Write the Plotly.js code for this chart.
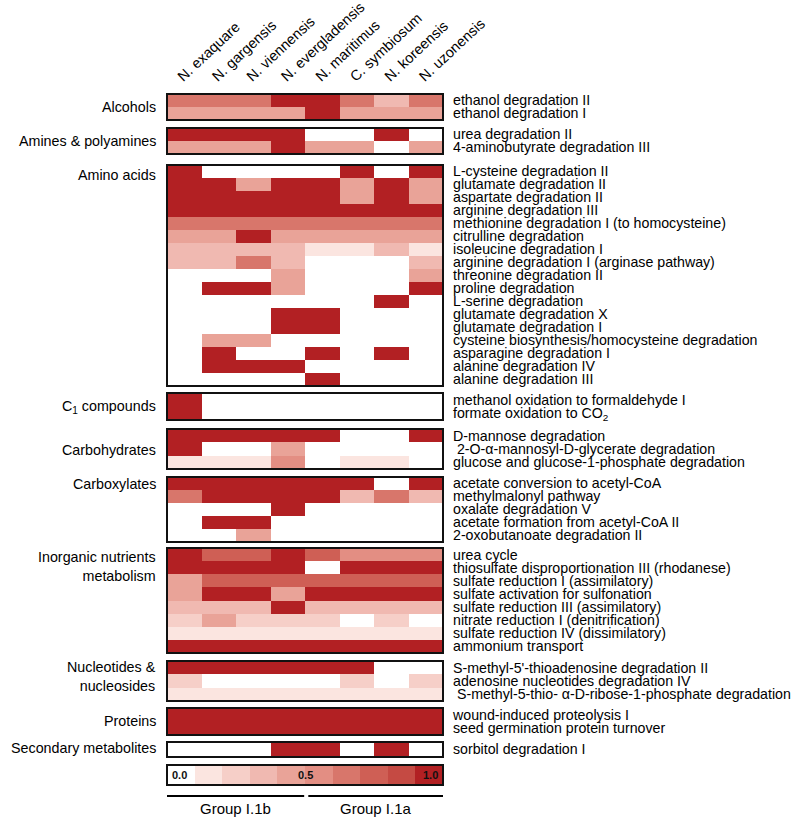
<!DOCTYPE html>
<html>
<head>
<meta charset="utf-8">
<script src="https://cdn.plot.ly/plotly-3.0.1.min.js"></script>
<style>html,body{margin:0;padding:0;background:#fff;}#chart{width:800px;height:822px;}</style>
</head>
<body>
<div id="chart"></div>
<script>
// ---------- DATA ----------
const species = ['N. exaquare','N. gargensis','N. viennensis','N. evergladensis','N. maritimus','C. symbiosum','N. koreensis','N. uzonensis'];

const alcoholsPathways = ['ethanol degradation II','ethanol degradation I'];
const alcoholsValues = [
  [0.6,0.6,0.6,1,1,0.6,0.3,0.6],
  [0.4,0.4,0.4,0.4,1,0.4,0.4,0.4]
];

const aminesPathways = ['urea degradation II','4-aminobutyrate degradation III'];
const aminesValues = [
  [1,1,1,1,0,0,1,0],
  [0.4,0.4,0.4,1,0.4,0.4,0,0.4]
];

const aminoPathways = ['L-cysteine degradation II','glutamate degradation II','aspartate degradation II','arginine degradation III',
  'methionine degradation I (to homocysteine)','citrulline degradation','isoleucine degradation I',
  'arginine degradation I (arginase pathway)','threonine degradation II','proline degradation','L-serine degradation',
  'glutamate degradation X','glutamate degradation I','cysteine biosynthesis/homocysteine degradation',
  'asparagine degradation I','alanine degradation IV','alanine degradation III'];
const aminoValues = [
  [1,0,0,0,0,1,0,1],
  [1,1,0.4,1,1,0.4,1,0.4],
  [1,1,1,1,1,0.4,1,0.4],
  [1,1,1,1,1,1,1,1],
  [0.6,0.6,0.6,0.6,0.6,0.6,0.6,0.6],
  [0.4,0.4,1,0.4,0.4,0.4,0.4,0.4],
  [0.3,0.3,0.3,0.3,0.1,0.1,0.3,0.1],
  [0.3,0.3,0.6,0.3,0,0,0,0.3],
  [0,0,0,0.4,0,0,0,0.4],
  [0,1,1,0.4,0,0,0,1],
  [0,0,0,0,0,0,1,0],
  [0,0,0,1,1,0,0,0],
  [0,0,0,1,1,0,0,0],
  [0,0.4,0.4,0,0,0,0,0],
  [0,1,0,0,1,0,1,0],
  [0,1,1,1,0,0,0,0],
  [0,0,0,0,1,0,0,0]
];

const c1Pathways = ['methanol oxidation to formaldehyde I','formate oxidation to CO<sub>2</sub>'];
const c1Values = [
  [1,0,0,0,0,0,0,0],
  [1,0,0,0,0,0,0,0]
];

const carbPathways = ['D-mannose degradation',' 2-O-\u03b1-mannosyl-D-glycerate degradation','glucose and glucose-1-phosphate degradation'];
const carbValues = [
  [1,1,1,1,1,0,0,1],
  [1,0,0,0.4,0,0,0,0],
  [0.1,0.1,0.1,0.5,0,0.1,0.1,0]
];

const carboxPathways = ['acetate conversion to acetyl-CoA','methylmalonyl pathway','oxalate degradation V','acetate formation from acetyl-CoA II','2-oxobutanoate degradation II'];
const carboxValues = [
  [1,1,1,1,1,1,0,1],
  [0.6,1,1,1,1,0.3,0.6,0.3],
  [0,0,0,1,0,0,0,0],
  [0,1,1,0,0,0,0,0],
  [0,0,0.4,0,0,0,0,0]
];

const inorgPathways = ['urea cycle','thiosulfate disproportionation III (rhodanese)','sulfate reduction I (assimilatory)',
  'sulfate activation for sulfonation','sulfate reduction III (assimilatory)','nitrate reduction I (denitrification)',
  'sulfate reduction IV (dissimilatory)','ammonium transport'];
const inorgValues = [
  [1,0.7,0.7,1,0.7,0.5,0.5,0.5],
  [1,1,1,1,0,1,1,1],
  [0.4,0.7,0.7,0.7,0.7,0.7,0.7,0.7],
  [0.4,1,1,0.4,1,1,1,1],
  [0.3,0.3,0.3,1,0.3,0.3,0.3,0.3],
  [0.2,0.4,0.2,0.2,0.2,0,0.2,0],
  [0.1,0.1,0.1,0.1,0.1,0.1,0.1,0.1],
  [1,1,1,1,1,1,1,1]
];

const nuclPathways = ["S-methyl-5'-thioadenosine degradation II",'adenosine nucleotides degradation IV',' S-methyl-5-thio- \u03b1-D-ribose-1-phosphate degradation'];
const nuclValues = [
  [1,1,1,1,1,1,0,0],
  [0.2,0,0,0,0,0.2,0,0.2],
  [0.1,0.1,0.1,0.1,0.1,0.1,0.1,0.1]
];

const protPathways = ['wound-induced proteolysis I','seed germination protein turnover'];
const protValues = [
  [1,1,1,1,1,1,1,1],
  [1,1,1,1,1,1,1,1]
];

const secPathways = ['sorbitol degradation I'];
const secValues = [
  [0,0,0,1,1,0,1,0]
];

const groupNames = ['Alcohols','Amines & polyamines','Amino acids','C<sub>1</sub> compounds','Carbohydrates','Carboxylates',
  'Inorganic nutrients<br>metabolism','Nucleotides &<br>nucleosides','Proteins','Secondary metabolites'];

const scaleLevels = [0,0.1,0.2,0.3,0.4,0.5,0.6,0.7,0.8,0.9];
const scaleTickLabels = ['0.0','0.5','1.0'];
const cladeNames = ['Group I.1b','Group I.1a'];

// ---------- STYLE / LAYOUT ----------
const H = 822;
const FONT = 'Arial, "Liberation Sans", Helvetica, sans-serif';
const binColors = ['#ffffff','#fbe5e0','#f6cfc8','#f0b9b1','#e9a398','#e38e83','#d8766b','#cf5f55','#c54a43','#b22023'];
const colorscale = [];
binColors.forEach((c,i)=>{ colorscale.push([i/10,c]); colorscale.push([i<9?(i+1)/10-1e-6:1,c]); });

const groups = [
  {p:alcoholsPathways, v:alcoholsValues, top:94,  bot:120, ly:107},
  {p:aminesPathways,   v:aminesValues,   top:128, bot:154, ly:141},
  {p:aminoPathways,    v:aminoValues,    top:165, bot:386, ly:175},
  {p:c1Pathways,       v:c1Values,       top:393, bot:420, ly:407},
  {p:carbPathways,     v:carbValues,     top:429, bot:469, ly:450},
  {p:carboxPathways,   v:carboxValues,   top:477, bot:542, ly:484},
  {p:inorgPathways,    v:inorgValues,    top:548, bot:653, ly:566},
  {p:nuclPathways,     v:nuclValues,     top:661, bot:701, ly:676},
  {p:protPathways,     v:protValues,     top:708, bot:735, ly:721},
  {p:secPathways,      v:secValues,      top:742, bot:757, ly:748}
];
const py = v => 1 - v/H;

const data = [];
const layout = {
  width:800, height:H,
  margin:{l:167, r:357, t:0, b:0},
  paper_bgcolor:'#fff', plot_bgcolor:'#fff',
  showlegend:false,
  font:{family:FONT, color:'#000'},
  xaxis:{
    type:'category', side:'top', anchor:'y', tickangle:-43,
    tickmode:'array', tickvals:species, ticktext:species,
    showgrid:false, zeroline:false, showline:false, ticks:'',
    tickfont:{size:14.5, family:FONT, color:'#000'}, ticklabelstandoff:6, ticklabelshift:-6, fixedrange:true
  },
  shapes:[], annotations:[]
};

groups.forEach((g,i)=>{
  const yn = i===0 ? 'y' : 'y'+(i+1);
  const yk = i===0 ? 'yaxis' : 'yaxis'+(i+1);
  data.push({
    type:'heatmap', x:species, y:g.p, z:g.v, xaxis:'x', yaxis:yn,
    colorscale:colorscale, zmin:0, zmax:1, showscale:false, hoverinfo:'x+y+z'
  });
  layout[yk] = {
    domain:[py(g.bot), py(g.top)], anchor:'x', side:'right', type:'category',
    autorange:'reversed', showgrid:false, zeroline:false, showline:false, ticks:'',
    tickmode:'array', tickvals:g.p, ticktext:g.p,
    tickfont:{size:14.2, family:FONT, color:'#000'}, ticklabelstandoff:9, fixedrange:true
  };
  layout.shapes.push({type:'rect', xref:'x domain', yref:yn+' domain', x0:0, x1:1, y0:0, y1:1,
    line:{color:'#111', width:2}, fillcolor:'rgba(0,0,0,0)'});
  layout.annotations.push({xref:'paper', yref:'paper', x:0, y:py(g.ly), xshift:-9,
    xanchor:'right', yanchor:'middle', align:'right', showarrow:false,
    text:groupNames[i], font:{size:14.3, family:FONT, color:'#000'}});
});

// colour scale bar
const cbN = groups.length + 1;
data.push({
  type:'heatmap', x:scaleLevels.map((_,i)=>i), y:[0], z:[scaleLevels], xaxis:'x2', yaxis:'y'+cbN,
  colorscale:colorscale, zmin:0, zmax:1, showscale:false, hoverinfo:'skip'
});
layout.xaxis2 = {domain:[0,1], anchor:'y'+cbN, range:[-0.5,9.5], visible:false, fixedrange:true};
layout['yaxis'+cbN] = {domain:[py(785), py(765)], anchor:'x2', range:[-0.5,0.5], visible:false, fixedrange:true};
layout.shapes.push({type:'rect', xref:'x2 domain', yref:'y'+cbN+' domain', x0:0, x1:1, y0:0, y1:1,
  line:{color:'#111', width:2}, fillcolor:'rgba(0,0,0,0)'});
const cbPos = [{x:0, xa:'left', xs:3},{x:0.5, xa:'center', xs:0},{x:1, xa:'right', xs:-3}];
scaleTickLabels.forEach((t,i)=>{
  layout.annotations.push({xref:'x2 domain', yref:'y'+cbN+' domain', x:cbPos[i].x, y:0.5, xshift:cbPos[i].xs,
    xanchor:cbPos[i].xa, yanchor:'middle', showarrow:false, text:'<b>'+t+'</b>',
    font:{size:11, family:FONT, color:'#111'}});
});

// clade brackets
const cladeSpan = [[0, 0.497],[0.512, 1.0]];
cladeNames.forEach((n,i)=>{
  layout.shapes.push({type:'line', xref:'paper', yref:'paper', x0:cladeSpan[i][0], x1:cladeSpan[i][1],
    y0:py(796), y1:py(796), line:{color:'#000', width:2}});
  layout.annotations.push({xref:'paper', yref:'paper', x:(cladeSpan[i][0]+cladeSpan[i][1])/2, y:py(808),
    xanchor:'center', yanchor:'middle', showarrow:false, text:n, font:{size:15, family:FONT, color:'#000'}});
});

Plotly.newPlot('chart', data, layout, {displayModeBar:false, staticPlot:true});
</script>
</body>
</html>
